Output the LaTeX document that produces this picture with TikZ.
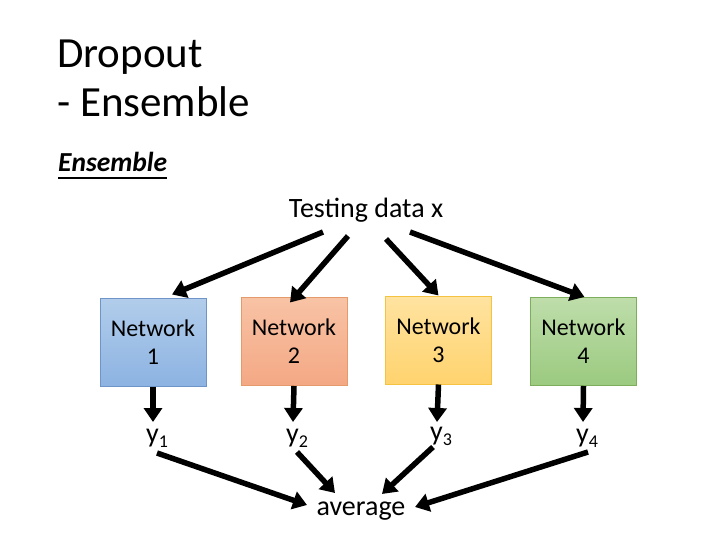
\documentclass[tikz,border=0pt]{standalone}
\usepackage{fontspec}
\setmainfont{Carlito}
\usetikzlibrary{arrows.meta,calc}
\definecolor{bluet}{HTML}{B2CDEB}
\definecolor{blueb}{HTML}{8CB3E2}
\definecolor{blued}{HTML}{6F94C8}
\definecolor{oranget}{HTML}{F8C3A5}
\definecolor{orangeb}{HTML}{F4A884}
\definecolor{oranged}{HTML}{E59A6B}
\definecolor{yellowt}{HTML}{FFE3A0}
\definecolor{yellowb}{HTML}{FFD36E}
\definecolor{yellowd}{HTML}{F5C242}
\definecolor{greent}{HTML}{BEDDAA}
\definecolor{greenb}{HTML}{9BCA80}
\definecolor{greend}{HTML}{7DAE5C}
\tikzset{
  netbox/.style={draw, line width=1pt, minimum width=106pt, minimum height=88pt, align=center,
    font=\fontsize{24}{28}\selectfont, inner sep=0pt},
  bigarrow/.style={line width=5.5pt, -{Triangle[width=18pt,length=14pt]}},
  lbl/.style={font=\fontsize{28}{32}\selectfont, inner sep=0pt, anchor=base}
}
\newcommand{\ysub}[1]{y\raisebox{-5pt}{\fontsize{18}{18}\selectfont #1}}
\begin{document}
\begin{tikzpicture}[x=1pt,y=-1pt]
\useasboundingbox (0,0) rectangle (720,540);
\fill[white] (0,0) rectangle (720,540);
\node[anchor=base west, inner sep=0pt, font=\fontsize{43}{46}\selectfont] (t1) at (57,68) {Dropout};
\node[anchor=base west, inner sep=0pt, font=\fontsize{43}{46}\selectfont] (t2) at (57,117) {- Ensemble};
\node[anchor=base west, inner sep=0pt, font=\fontsize{27.5}{30}\selectfont\bfseries\itshape] (ens) at (58,172) {Ensemble};
\draw[line width=2pt] ($(ens.base west)+(0,6)$) -- ($(ens.base east)+(0,6)$);
\node[lbl] (x) at (366,218) {Testing data x};

\node[netbox, top color=bluet, bottom color=blueb, draw=blued] (n1) at (153,342) {Network\\1};
\node[netbox, top color=oranget, bottom color=orangeb, draw=oranged] (n2) at (294,341.5) {Network\\2};
\node[netbox, top color=yellowt, bottom color=yellowb, draw=yellowd] (n3) at (438.5,340) {Network\\3};
\node[netbox, top color=greent, bottom color=greenb, draw=greend] (n4) at (583.5,341.5) {Network\\4};

\node[lbl] (y1) at (157,442) {\ysub{1}};
\node[lbl] (y2) at (297,442) {\ysub{2}};
\node[lbl] (y3) at (441,440) {\ysub{3}};
\node[lbl] (y4) at (587,442) {\ysub{4}};
\node[lbl] (avg) at (361,515) {average};

\draw[bigarrow] ($(x.base)+(-43,14)$) -- ($(n1.north)+(19,-3)$);
\draw[bigarrow] ($(x.base)+(-18,18)$) -- ($(n2.north)+(-4,5.5)$);
\draw[bigarrow] ($(x.base)+(20,21)$) -- ($(n3.north)+(0,0)$);
\draw[bigarrow] ($(x.base)+(44,14)$) -- ($(n4.north)+(1,0)$);

\draw[bigarrow] (n1.south) -- ($(y1.base)+(-4,-20)$);
\draw[bigarrow] (n2.south) -- ($(y2.base)+(-4,-20)$);
\draw[bigarrow] (n3.south) -- ($(y3.base)+(-4,-18)$);
\draw[bigarrow] (n4.south) -- ($(y4.base)+(-4,-20)$);

\draw[bigarrow] ($(y1.base)+(0,11)$) -- ($(avg.base)+(-54,-10)$);
\draw[bigarrow] ($(y2.base)+(0,10)$) -- ($(avg.base)+(-26,-22)$);
\draw[bigarrow] ($(y3.base)+(-8,7)$) -- ($(avg.base)+(21,-21)$);
\draw[bigarrow] ($(y4.base)+(1,10)$) -- ($(avg.base)+(54,-8)$);
\end{tikzpicture}
\end{document}
